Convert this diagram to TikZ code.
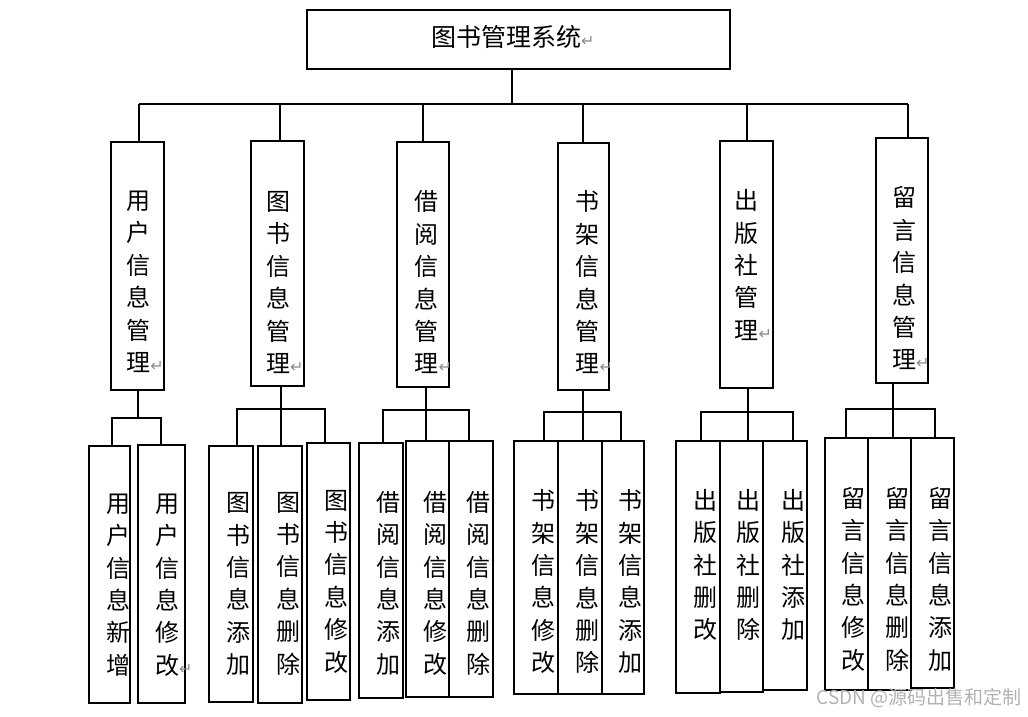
\documentclass[tikz,border=0pt]{standalone}
\usepackage{fontspec}
\setmainfont{Noto Sans CJK SC}
\newfontfamily\symf{DejaVu Sans}
\newcommand\ret{{\symf\fontsize{16}{16}\selectfont\color{black!45}↵}}
\tikzset{
  boxst/.style={draw=black, line width=1.7pt, rectangle, inner sep=0pt, outer sep=0pt},
  vtxt/.style={font=\fontsize{24}{32.4}\selectfont, align=center, inner sep=0pt},
  conn/.style={draw=black, line width=1.7pt},
}
\newcommand\mkbox[5]{%
  \pgfmathsetmacro\bw{#4-#2}\pgfmathsetmacro\bh{#5-#3}%
  \node[boxst, minimum width=\bw pt, minimum height=\bh pt] (#1) at ({(#2+#4)/2},{(#3+#5)/2}) {};}
\begin{document}
\begin{tikzpicture}[x=1pt,y=-1pt]
\useasboundingbox[fill=white] (0,0) rectangle (1028,717);
% root
\mkbox{root}{307.3}{10}{730}{69}
\node[font=\fontsize{25}{30}\selectfont, inner sep=0pt] (troot) at (506,37) {图书管理系统\rlap{\ret}};
% second level
\mkbox{b1}{110.7}{142.3}{164}{390}
\mkbox{b2}{251}{140.7}{304}{385.7}
\mkbox{b3}{397}{141.7}{449}{387}
\mkbox{b4}{557.7}{143}{609}{390}
\mkbox{b5}{720}{141}{773}{387.7}
\mkbox{b6}{875.7}{138.3}{927.7}{383}
\node[vtxt] (t1) at (138.3,281.9) {用\\户\\信\\息\\管\\理\rlap{\ret}};
\node[vtxt] (t2) at (278,282.5) {图\\书\\信\\息\\管\\理\rlap{\ret}};
\node[vtxt] (t3) at (426.5,282.5) {借\\阅\\信\\息\\管\\理\rlap{\ret}};
\node[vtxt] (t4) at (587.5,282.4) {书\\架\\信\\息\\管\\理\rlap{\ret}};
\node[vtxt] (t5) at (746.7,264.9) {出\\版\\社\\管\\理\rlap{\ret}};
\node[vtxt] (t6) at (904,278.4) {留\\言\\信\\息\\管\\理\rlap{\ret}};
% leaves
\mkbox{l1a}{89}{445.7}{130}{702.7}
\mkbox{l1b}{138.3}{445}{185}{703}
\mkbox{l2a}{209.3}{445.7}{252.7}{701.7}
\mkbox{l2b}{258.3}{445.7}{301.7}{702.7}
\mkbox{l2c}{306.7}{443.3}{350}{700}
\mkbox{l3a}{359}{442.7}{402.7}{698.3}
\mkbox{l3b}{405.7}{441}{449}{696.7}
\mkbox{l3c}{449}{441}{492.7}{696.7}
\mkbox{l4a}{514}{440.7}{558.3}{694.3}
\mkbox{l4b}{558.3}{440.7}{601.7}{694.3}
\mkbox{l4c}{601.7}{440.7}{644}{694.3}
\mkbox{l5a}{676}{441}{720}{692.7}
\mkbox{l5b}{720}{441}{763.3}{691.7}
\mkbox{l5c}{763.3}{441}{807.3}{690}
\mkbox{l6a}{825}{438.3}{868.3}{690}
\mkbox{l6b}{868.3}{438.3}{910.7}{690}
\mkbox{l6c}{910.7}{438.3}{954}{688.3}
\node[vtxt] (u1a) at (118.5,584.9) {用\\户\\信\\息\\新\\增};
\node[vtxt] (u1b) at (167,585) {用\\户\\信\\息\\修\\改\rlap{\ret}};
\node[vtxt] (u2a) at (238,584.2) {图\\书\\信\\息\\添\\加};
\node[vtxt] (u2b) at (288,583.5) {图\\书\\信\\息\\删\\除};
\node[vtxt] (u2c) at (336.7,581.5) {图\\书\\信\\息\\修\\改};
\node[vtxt] (u3a) at (388.5,583.3) {借\\阅\\信\\息\\添\\加};
\node[vtxt] (u3b) at (435,583.3) {借\\阅\\信\\息\\修\\改};
\node[vtxt] (u3c) at (478.3,583.3) {借\\阅\\信\\息\\删\\除};
\node[vtxt] (u4a) at (543.5,581.7) {书\\架\\信\\息\\修\\改};
\node[vtxt] (u4b) at (587.5,581.7) {书\\架\\信\\息\\删\\除};
\node[vtxt] (u4c) at (630,581.7) {书\\架\\信\\息\\添\\加};
\node[vtxt] (u5a) at (705,565) {出\\版\\社\\删\\改};
\node[vtxt] (u5b) at (748.3,565) {出\\版\\社\\删\\除};
\node[vtxt] (u5c) at (793.3,565) {出\\版\\社\\添\\加};
\node[vtxt] (u6a) at (853.3,579.2) {留\\言\\信\\息\\修\\改};
\node[vtxt] (u6b) at (897.8,579.2) {留\\言\\信\\息\\删\\除};
\node[vtxt] (u6c) at (940,579.2) {留\\言\\信\\息\\添\\加};
% top bus
\coordinate (busL) at (139,104);
\coordinate (busR) at (908,104);
\coordinate (j0) at (511.7,104);
\coordinate (j1) at (139,104);
\coordinate (j2) at (280,104);
\coordinate (j3) at (423,104);
\coordinate (j4) at (583,104);
\coordinate (j5) at (747,104);
\coordinate (j6) at (908,104);
\draw[conn] (root.south -| j0) -- (j0);
\draw[conn] (busL) -- (busR);
\foreach \k in {1,...,6} {\draw[conn] (j\k) -- (j\k |- b\k.north);}
% sub-buses
\coordinate (s1) at (137.7,417.7) ; \coordinate (s1l) at (111.7,417.7); \coordinate (s1r) at (160.7,417.7);
\coordinate (s2) at (280.7,409.3) ; \coordinate (s2l) at (237.3,409.3); \coordinate (s2r) at (325,409.3);
\coordinate (s3) at (426,410)     ; \coordinate (s3l) at (383.3,410);   \coordinate (s3r) at (469.3,410);
\coordinate (s4) at (582.7,411.7) ; \coordinate (s4l) at (544,411.7);   \coordinate (s4r) at (620.7,411.7);
\coordinate (s5) at (747.7,411.7) ; \coordinate (s5l) at (700.7,411.7); \coordinate (s5r) at (792.7,411.7);
\coordinate (s6) at (892.7,409.3) ; \coordinate (s6l) at (845.7,409.3); \coordinate (s6r) at (935,409.3);
\draw[conn] (b1.south -| s1) -- (s1);
\draw[conn] (s1l |- l1a.north) -- (s1l) -- (s1r) -- (s1r |- l1b.north);
\foreach \k in {2,...,6} {
  \draw[conn] (s\k l |- l\k a.north) -- (s\k l) -- (s\k r) -- (s\k r |- l\k c.north);
  \draw[conn] (b\k.south -| s\k) -- (s\k |- l\k b.north);
}
% watermark
\node[anchor=east, inner sep=0pt, text=black!30, font=\fontsize{19}{22}\selectfont] (wm) at (1022,698) {CSDN @源码出售和定制};
\end{tikzpicture}
\end{document}
